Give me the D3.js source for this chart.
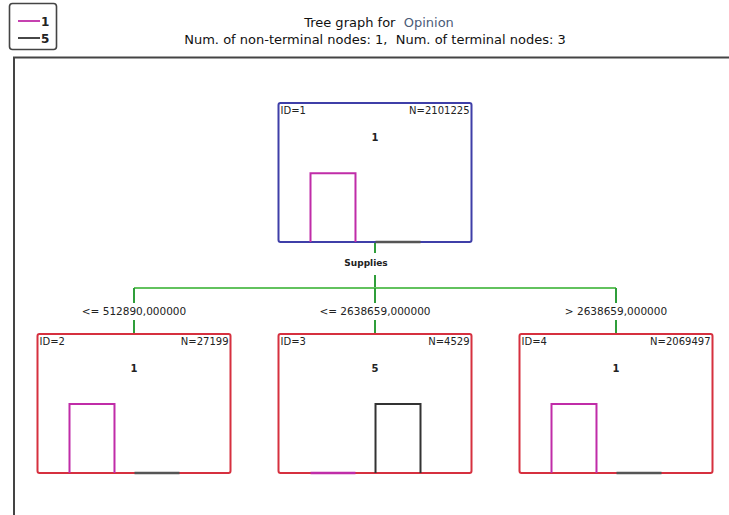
<!DOCTYPE html>
<html><head><meta charset="utf-8">
<script src="https://cdn.jsdelivr.net/npm/d3@7/dist/d3.min.js"></script>
<style>body{margin:0;background:#fff;} svg{display:block;font-family:"DejaVu Sans",Verdana,sans-serif;} text{white-space:pre;}</style>
</head><body>
<script>
// ---- data ----
const classes = ["1", "5"];
const classColors = ["#c02ca8", "#333333"];
const nodeIds = [1, 2, 3, 4];
const nodeN = [2101225, 27199, 4529, 2069497];
const predicted = ["1", "1", "5", "1"];
const share1 = [0.998, 1.0, 0.0, 1.0];
const share5 = [0.002, 0.0, 1.0, 0.0];
const splitVar = "Supplies";
const splitLabels = ["<= 512890,000000", "<= 2638659,000000", "> 2638659,000000"];
const titleDep = "Opinion";
const nonTerminal = 1, terminal = 3;

const W = 729, H = 515;
const svg = d3.select("body").append("svg").attr("width", W).attr("height", H);

// title
const t = svg.append("text").attr("x", 379).attr("y", 27).attr("text-anchor", "middle")
  .attr("font-size", 13).attr("fill", "#111");
t.append("tspan").text("Tree graph for  ");
t.append("tspan").attr("fill", "#4b5b78").text(titleDep);
svg.append("text").attr("x", 375).attr("y", 43.5).attr("text-anchor", "middle")
  .attr("font-size", 13).attr("fill", "#111")
  .text(`Num. of non-terminal nodes: ${nonTerminal},  Num. of terminal nodes: ${terminal}`);

// legend
svg.append("rect").attr("x", 9.5).attr("y", 3.5).attr("width", 47).attr("height", 46).attr("rx", 3)
  .attr("fill", "#fff").attr("stroke", "#444").attr("stroke-width", 1.6);
classes.forEach((c, i) => {
  const y = 21 + i * 17;
  svg.append("line").attr("x1", 18).attr("x2", 40).attr("y1", y).attr("y2", y)
    .attr("stroke", classColors[i]).attr("stroke-width", 1.8);
  svg.append("text").attr("x", 41).attr("y", y + 4.5).attr("font-size", 12).attr("font-weight", "bold")
    .attr("fill", "#222").text(c);
});

// outer frame
svg.append("path").attr("d", `M14,${H} V57.5 H${W}`).attr("fill", "none")
  .attr("stroke", "#444").attr("stroke-width", 2);

// hierarchy
const nodes = nodeIds.map((id, i) => ({id, N: nodeN[i], pred: predicted[i], shares: [share1[i], share5[i]]}));
const rootData = Object.assign({}, nodes[0], {children: nodes.slice(1).map((d, i) => Object.assign({}, d, {label: splitLabels[i]}))});
const root = d3.hierarchy(rootData);
d3.tree().nodeSize([241, 231]).separation(() => 1)(root);

const boxW = 193, boxH = 139, offX = 375, offY = 103;
const gx = d => d.x + offX, gy = d => d.y + offY;

// connectors
const cx = gx(root), rb = gy(root) + boxH;
const green = "#2f9e3a", lightGreen = "#62c25e";
svg.append("line").attr("x1", cx).attr("x2", cx).attr("y1", rb).attr("y2", 253).attr("stroke", green).attr("stroke-width", 2);
svg.append("line").attr("x1", cx).attr("x2", cx).attr("y1", 275).attr("y2", 288).attr("stroke", green).attr("stroke-width", 2);
svg.append("text").attr("x", cx - 9).attr("y", 266).attr("text-anchor", "middle").attr("font-size", 9)
  .attr("font-weight", "bold").attr("fill", "#222").text(splitVar);
const kids = root.children;
svg.append("line").attr("x1", gx(kids[0])).attr("x2", gx(kids[kids.length - 1])).attr("y1", 288).attr("y2", 288)
  .attr("stroke", lightGreen).attr("stroke-width", 2);
kids.forEach(k => {
  const x = gx(k), top = gy(k);
  svg.append("line").attr("x1", x).attr("x2", x).attr("y1", 288).attr("y2", 303).attr("stroke", green).attr("stroke-width", 2);
  svg.append("line").attr("x1", x).attr("x2", x).attr("y1", 320).attr("y2", top).attr("stroke", green).attr("stroke-width", 2);
  svg.append("text").attr("x", x).attr("y", 315).attr("text-anchor", "middle").attr("font-size", 10.5)
    .attr("fill", "#222").text(k.data.label);
});

// nodes
const barY = d3.scaleLinear().domain([0, 1]).range([0, 69]);
root.descendants().forEach(n => {
  const x0 = gx(n) - boxW / 2, y0 = gy(n), yb = y0 + boxH;
  const col = n.depth === 0 ? "#3f3fa8" : "#d6303f";
  const g = svg.append("g");
  g.append("rect").attr("x", x0).attr("y", y0).attr("width", boxW).attr("height", boxH).attr("rx", 2)
    .attr("fill", "#fff").attr("stroke", col).attr("stroke-width", 2);
  g.append("text").attr("x", x0 + 2).attr("y", y0 + 11).attr("font-size", 10).attr("fill", "#222").text("ID=" + n.data.id);
  g.append("text").attr("x", x0 + boxW - 2).attr("y", y0 + 11).attr("text-anchor", "end").attr("font-size", 10)
    .attr("fill", "#222").text("N=" + n.data.N);
  g.append("text").attr("x", gx(n)).attr("y", y0 + 38).attr("text-anchor", "middle").attr("font-size", 10)
    .attr("font-weight", "bold").attr("fill", "#222").text(n.data.pred);
  const bx = d3.scaleBand().domain(classes).range([x0 + 32, x0 + 142]).paddingInner(0.308);
  classes.forEach((c, i) => {
    const h = barY(n.data.shares[i]);
    const xa = bx(c), xb = bx(c) + bx.bandwidth();
    if (h < 3) {
      g.append("line").attr("x1", xa).attr("x2", xb).attr("y1", yb).attr("y2", yb)
        .attr("stroke", i === 1 ? "#555" : classColors[i]).attr("stroke-width", 2.5);
    } else {
      g.append("path").attr("d", `M${xa},${yb} V${yb - h} H${xb} V${yb}`).attr("fill", "none")
        .attr("stroke", classColors[i]).attr("stroke-width", 2);
    }
  });
});
</script>
</body></html>
